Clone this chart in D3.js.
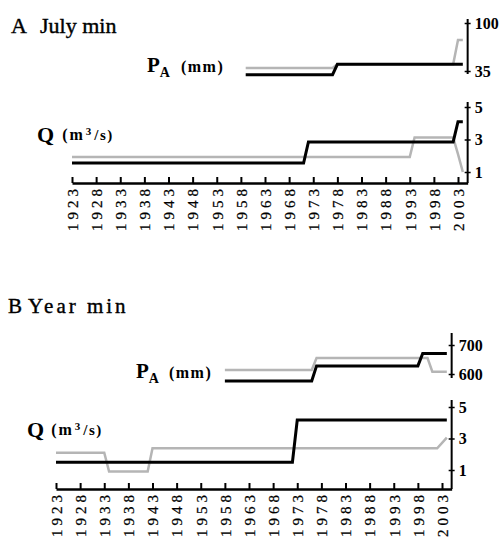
<!DOCTYPE html>
<html>
<head>
<meta charset="utf-8">
<script src="https://cdn.jsdelivr.net/npm/d3@7"></script>
<style>
  body { margin: 0; background: #fff; }
  text { font-family: "Liberation Serif", "Times New Roman", Times, serif; fill: #000; }
</style>
</head>
<body>
<div id="chart"></div>
<script>
// tick labels on both year axes
let arrTickYears = [1923, 1928, 1933, 1938, 1943, 1948, 1953, 1958, 1963,
  1968, 1973, 1978, 1983, 1988, 1993, 1998, 2003];

// A) July min: [year, value] breakpoints
let arrJulyPaBlack = [[1959, 30], [1977, 30], [1978, 44], [2004, 44]];
let arrJulyPaGray = [[1959, 39], [1977, 39], [1978, 44], [2002, 44], [2003, 77], [2004, 77]];
let arrJulyQBlack = [[1923, 1.55], [1971, 1.55], [1972, 2.85], [2002, 2.85], [2003, 4.1], [2004, 4.1]];
let arrJulyQGray = [[1923, 1.92], [1993, 1.92], [1994, 3.12], [2002, 3.12], [2003, 2.1], [2004, 1.0]];
let arrJulyPaTicks = [35, 100];

// B) Year min
let arrYearPaBlack = [[1958, 576], [1976, 576], [1977, 628], [1998, 628], [1999, 671], [2004, 671]];
let arrYearPaGray = [[1958, 614], [1976, 614], [1977, 655], [2000, 655], [2001, 608], [2004, 608]];
let arrYearQBlack = [[1923, 1.5], [1972, 1.5], [1973, 4.17], [2004, 4.17]];
let arrYearQGray = [[1923, 2.1], [1933, 2.1], [1934, 0.9], [1942, 0.9], [1943, 2.38], [2002, 2.38], [2004, 3.05]];
let arrYearPaTicks = [600, 700];

let arrQTicks = [1, 3, 5];

let svg = d3.select("#chart")
  .append("svg")
  .attr("width", 503)
  .attr("height", 538);

// draws one panel (title, P_A strip, Q strip, year axis)
function fnDrawPanel(objP) {
  let fnX = d3.scaleLinear().domain([1923, 2005]).range([objP.x0, objP.x0 + 82 * 4.825]);
  let fnYPa = d3.scaleLinear().domain(objP.paDomain).range(objP.paRange);
  let fnYQ = d3.scaleLinear().domain([1, 5]).range(objP.qRange);
  let intAxisX = fnX(2005);

  // title (thin stroke to get the heavy look of the scan)
  let txtTitle = svg.append("text")
    .attr("x", objP.titleX)
    .attr("y", objP.titleY)
    .attr("font-size", objP.titleSize)
    .attr("stroke", "#000")
    .attr("stroke-width", 0.4);
  txtTitle.append("tspan").text(objP.letter);
  txtTitle.append("tspan")
    .attr("x", objP.titleX2)
    .attr("letter-spacing", objP.titleSpacing)
    .text(objP.title);

  // year axis, ticks pointing up
  let gX = svg.append("g")
    .attr("transform", `translate(0, ${objP.axisY})`)
    .call(d3.axisBottom(fnX)
      .tickValues(arrTickYears)
      .tickSizeInner(-6)
      .tickSizeOuter(0)
      .tickFormat(d3.format("d")));
  gX.select(".domain").attr("stroke-width", 2.5);
  gX.selectAll(".tick line").attr("stroke-width", 2);
  gX.selectAll(".tick text")
    .attr("transform", "rotate(-90)")
    .attr("text-anchor", "end")
    .attr("x", -2)
    .attr("y", 0)
    .attr("dy", "0.35em")
    .attr("font-size", 15)
    .attr("letter-spacing", 4)
    .attr("stroke", "#000")
    .attr("stroke-width", 0.25);

  // right hand value axes
  function fnRightAxis(fnY, arrTicks, intTop, intBot) {
    let g = svg.append("g")
      .attr("transform", `translate(${intAxisX}, 0)`)
      .call(d3.axisRight(fnY).tickValues(arrTicks).tickSize(3).tickPadding(4)
        .tickFormat(d3.format("d")));
    g.select(".domain").remove();
    g.selectAll(".tick line").attr("x1", -3).attr("stroke-width", 1.5);
    g.selectAll(".tick text")
      .attr("font-size", 16)
      .attr("font-weight", "bold");
    g.append("line")
      .attr("y1", intTop)
      .attr("y2", intBot)
      .attr("stroke", "#000")
      .attr("stroke-width", 2);
  }
  fnRightAxis(fnYPa, objP.paTicks, objP.paTop, objP.paBot);
  fnRightAxis(fnYQ, arrQTicks, objP.qTop, objP.axisY);

  // series lines, gray underneath
  let fnLinePa = d3.line().x(d => fnX(d[0])).y(d => fnYPa(d[1]));
  let fnLineQ = d3.line().x(d => fnX(d[0])).y(d => fnYQ(d[1]));
  [[objP.paGray, fnLinePa, "#b5b5b5", 2.5], [objP.paBlack, fnLinePa, "#000", 3],
   [objP.qGray, fnLineQ, "#b5b5b5", 2.5], [objP.qBlack, fnLineQ, "#000", 3]]
    .forEach(arr => {
      svg.append("path")
        .attr("d", arr[1](arr[0]))
        .attr("fill", "none")
        .attr("stroke", arr[2])
        .attr("stroke-width", arr[3]);
    });

  // P_A (mm) label
  let txtPa = svg.append("text")
    .attr("x", objP.paLabX)
    .attr("y", objP.paLabY)
    .attr("font-weight", "bold");
  txtPa.append("tspan").attr("font-size", 21).text("P");
  txtPa.append("tspan").attr("font-size", 14).attr("dy", 5).text("A");
  txtPa.append("tspan").attr("font-size", 16).attr("dy", -5).attr("dx", objP.paGap)
    .attr("letter-spacing", 1.5).text("(mm)");

  // Q (m3/s) label
  let txtQ = svg.append("text")
    .attr("x", objP.qLabX)
    .attr("y", objP.qLabY)
    .attr("font-weight", "bold");
  txtQ.append("tspan").attr("font-size", 22).text("Q");
  txtQ.append("tspan").attr("font-size", 16).attr("dx", objP.qGap).attr("dy", -2)
    .attr("letter-spacing", 2).text("(m");
  txtQ.append("tspan").attr("font-size", 11).attr("dx", 1).attr("dy", -5).text("3");
  txtQ.append("tspan").attr("font-size", 15).attr("dx", 3).attr("dy", 5)
    .attr("letter-spacing", 1.5).text("/s)");
}

fnDrawPanel({
  letter: "A", title: "July min", titleX: 11, titleX2: 40, titleY: 33, titleSize: 22, titleSpacing: 0,
  x0: 72, axisY: 183,
  paDomain: [35, 100], paRange: [71, 23], paTicks: arrJulyPaTicks, paTop: 19, paBot: 74,
  qRange: [172, 107], qTop: 102,
  paBlack: arrJulyPaBlack, paGray: arrJulyPaGray, qBlack: arrJulyQBlack, qGray: arrJulyQGray,
  paLabX: 147, paLabY: 72, paGap: 11, qLabX: 37, qLabY: 142, qGap: 8
});

fnDrawPanel({
  letter: "B", title: "Year min", titleX: 8, titleX2: 28, titleY: 313, titleSize: 21, titleSpacing: 3,
  x0: 56, axisY: 489,
  paDomain: [600, 700], paRange: [374, 345], paTicks: arrYearPaTicks, paTop: 333, paBot: 378,
  qRange: [470, 407], qTop: 400,
  paBlack: arrYearPaBlack, paGray: arrYearPaGray, qBlack: arrYearQBlack, qGray: arrYearQGray,
  paLabX: 136, paLabY: 378, paGap: 10, qLabX: 27, qLabY: 437, qGap: 7
});
</script>
</body>
</html>
